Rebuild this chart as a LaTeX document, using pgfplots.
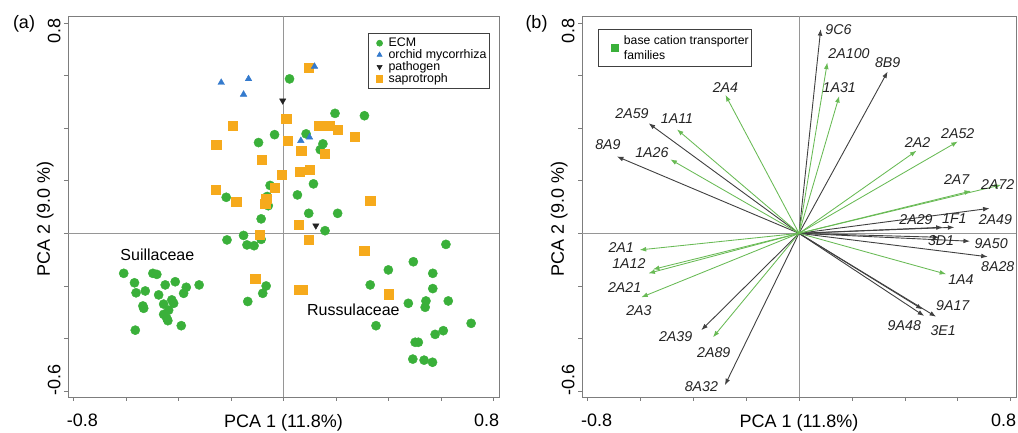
\documentclass[border=0pt]{standalone}
\usepackage{fontspec}
\setmainfont{Liberation Sans}
\usepackage{pgfplots}
\pgfplotsset{compat=1.18}
\usepackage{pgfplotstable}
\usetikzlibrary{arrows.meta}

\definecolor{ecm}{RGB}{58,176,58}
\definecolor{orch}{RGB}{52,122,205}
\definecolor{patho}{RGB}{35,35,35}
\definecolor{sapro}{RGB}{246,170,28}
\definecolor{agreen}{RGB}{104,186,84}
\definecolor{agrey}{RGB}{64,64,64}
\definecolor{framec}{RGB}{125,125,125}
\definecolor{zeroc}{RGB}{150,150,150}
\definecolor{labc}{RGB}{35,35,35}

% ---------- panel (a) data ----------
\pgfplotstableread{
x y
0.023 0.587
0.196 0.456
0.308 0.447
-0.034 0.375
0.086 0.378
-0.095 0.345
0.150 0.340
0.140 0.318
-0.051 0.182
0.114 0.188
-0.218 0.137
0.053 0.146
-0.062 0.140
-0.058 0.105
0.096 0.076
0.206 0.076
-0.085 0.055
0.158 0.010
-0.215 -0.025
-0.152 -0.008
-0.139 -0.044
-0.112 -0.047
-0.085 -0.023
-0.066 -0.200
-0.079 -0.228
-0.136 -0.259
-0.608 -0.152
-0.567 -0.188
-0.561 -0.226
-0.526 -0.219
-0.497 -0.152
-0.482 -0.156
-0.450 -0.196
-0.412 -0.184
-0.370 -0.205
-0.380 -0.228
-0.321 -0.196
-0.475 -0.234
-0.535 -0.276
-0.532 -0.285
-0.456 -0.269
-0.425 -0.253
-0.418 -0.266
-0.437 -0.292
-0.456 -0.308
-0.440 -0.332
-0.444 -0.323
-0.389 -0.351
-0.564 -0.368
0.618 -0.042
0.494 -0.108
0.399 -0.139
0.568 -0.152
0.330 -0.196
0.568 -0.210
0.475 -0.266
0.542 -0.257
0.539 -0.281
0.627 -0.257
0.352 -0.351
0.714 -0.342
0.577 -0.384
0.608 -0.370
0.501 -0.414
0.513 -0.414
0.492 -0.478
0.535 -0.482
0.567 -0.490
}\ecmdata

\pgfplotstableread{
x y
-0.237 0.573
-0.133 0.587
-0.152 0.528
0.118 0.634
0.066 0.352
0.099 0.365
}\orchdata

\pgfplotstableread{
x y
-0.003 0.504
0.123 0.029
}\pathdata

\pgfplotstableread{
x y
0.095 0.630
0.010 0.437
-0.194 0.408
0.136 0.409
0.175 0.409
0.205 0.395
0.270 0.368
-0.256 0.336
0.016 0.351
0.067 0.314
0.156 0.304
-0.082 0.279
-0.006 0.222
0.063 0.234
0.099 0.241
-0.032 0.174
-0.257 0.165
-0.180 0.120
-0.066 0.133
-0.070 0.114
0.330 0.123
0.057 0.032
-0.091 -0.006
0.095 -0.025
0.307 -0.067
-0.108 -0.171
0.057 -0.215
0.074 -0.213
0.399 -0.231
}\saprodata

% ---------- panel (b) data ----------
\pgfplotstableread{
x y u v
0 0 0.082 0.776
0 0 0.335 0.615
0 0 -0.568 0.418
0 0 -0.688 0.292
0 0 0.720 0.095
0 0 0.543 0.023
0 0 0.587 0.023
0 0 0.530 -0.015
0 0 0.646 -0.030
0 0 0.713 -0.089
0 0 0.467 -0.289
0 0 0.518 -0.317
0 0 0.473 -0.314
0 0 -0.369 -0.368
0 0 -0.280 -0.577
}\arrowsgrey

\pgfplotstableread{
x y u v
0 0 0.107 0.649
0 0 0.152 0.522
0 0 -0.278 0.526
0 0 -0.461 0.395
0 0 -0.486 0.281
0 0 0.444 0.314
0 0 0.600 0.349
0 0 0.650 0.161
0 0 0.764 0.184
0 0 0.556 -0.155
0 0 -0.602 -0.063
0 0 -0.552 -0.137
0 0 -0.569 -0.152
0 0 -0.596 -0.243
0 0 -0.325 -0.395
}\arrowsgreen

\pgfplotstableread{
x y label
0.149 0.773 9C6
0.189 0.682 2A100
0.335 0.649 8B9
0.152 0.555 1A31
-0.278 0.555 2A4
-0.631 0.454 2A59
-0.461 0.437 1A11
-0.722 0.336 8A9
-0.556 0.307 1A26
0.448 0.345 2A2
0.600 0.380 2A52
0.596 0.203 2A7
0.751 0.186 2A72
0.442 0.051 2A29
0.587 0.057 1F1
0.742 0.051 2A49
0.537 -0.028 3D1
0.726 -0.038 9A50
0.751 -0.127 8A28
0.612 -0.175 1A4
0.581 -0.276 9A17
0.398 -0.349 9A48
0.545 -0.368 3E1
-0.672 -0.053 2A1
-0.643 -0.114 1A12
-0.659 -0.207 2A21
-0.605 -0.292 2A3
-0.466 -0.393 2A39
-0.322 -0.454 2A89
-0.369 -0.583 8A32
}\labelsB

\newcommand{\bigf}{\fontsize{18}{20}\selectfont}

\pgfplotsset{
  pcastyle/.style={
    scale only axis,
    height=381pt,
    xmin=-0.82, xmax=0.82, ymin=-0.622, ymax=0.826,
    xtick={-0.8,-0.6,...,0.81}, ytick={-0.6,-0.4,...,0.81},
    xticklabels={}, yticklabels={},
    extra x ticks={-0.765,0.773}, extra x tick labels={-0.8,0.8},
    extra y ticks={-0.558,0.769}, extra y tick labels={-0.6,0.8},
    extra x tick style={grid=none, tick style={draw=none}},
    extra y tick style={grid=none, tick style={draw=none}},
    tick pos=left, tick align=outside, major tick length=4pt,
    tick style={framec, line width=0.6pt},
    axis line style={framec, line width=0.7pt},
    ticklabel style={font=\bigf, text=black},
    xticklabel style={anchor=north, yshift=-9.5pt},
    yticklabel style={rotate=90, anchor=south},
    xlabel={PCA 1 (11.8\%)},
    ylabel={PCA 2 (9.0 \%)},
    label style={font=\bigf},
    xlabel style={at={(axis description cs:0.5,0)}, anchor=base, yshift=-30.5pt},
    clip=false,
  }
}

\begin{document}
\begin{tikzpicture}
\useasboundingbox (0,0) rectangle (1018pt,433pt);

% ================= panel (a) =================
\begin{axis}[pcastyle, width=431pt, at={(68pt,36pt)}, anchor=south west,
  ylabel style={at={(axis description cs:-0.042,0.467)}, anchor=base, rotate=0},
  legend style={at={(rel axis cs:0.696,0.955)}, anchor=north west,
    font=\fontsize{12.4}{12.4}\selectfont, draw=black!75, line width=0.6pt,
    inner xsep=2pt, inner ysep=4pt, row sep=0pt,
    nodes={inner sep=0.7pt}},
  legend cell align=left,
  legend image code/.code={\path (-9pt,0pt) (8pt,0pt); \draw[#1] plot coordinates {(0pt,0pt)};},
]
\addlegendimage{only marks, mark=*, mark size=3pt, ecm, mark options={draw=ecm, fill=ecm}}
\addlegendentry{ECM}
\addlegendimage{only marks, mark=triangle*, mark size=2.9pt, orch, mark options={draw=orch, fill=orch}}
\addlegendentry{orchid mycorrhiza}
\addlegendimage{only marks, mark=triangle*, mark size=2.9pt, patho, mark options={rotate=180, draw=patho, fill=patho}}
\addlegendentry{pathogen}
\addlegendimage{only marks, mark=square*, mark size=3.2pt, sapro, mark options={draw=sapro, fill=sapro}}
\addlegendentry{saprotroph}

\addplot[zeroc, line width=0.6pt, forget plot] coordinates {(0,-0.622) (0,0.826)};
\addplot[zeroc, line width=0.6pt, forget plot] coordinates {(-0.82,0) (0.82,0)};

\addplot[only marks, mark=*, mark size=4.6pt, mark options={draw=ecm, fill=ecm}, forget plot] table {\ecmdata};
\addplot[only marks, mark=square*, mark size=4.6pt, mark options={draw=sapro, fill=sapro}, forget plot] table {\saprodata};
\addplot[only marks, mark=triangle*, mark size=3.6pt, mark options={rotate=180, draw=patho, fill=patho}, forget plot] table {\pathdata};
\addplot[only marks, mark=triangle*, mark size=3.8pt, mark options={draw=orch, fill=orch}, forget plot] table {\orchdata};

\node[font=\fontsize{16}{16}\selectfont] at (axis cs:-0.480,-0.082) {Suillaceae};
\node[font=\fontsize{16}{16}\selectfont] at (axis cs:0.266,-0.292) {Russulaceae};
\end{axis}
\node[font=\bigf] at (24pt,409pt) {(a)};

% ================= panel (b) =================
\begin{axis}[pcastyle, width=434pt, at={(582pt,36pt)}, anchor=south west,
  ylabel style={at={(axis description cs:-0.042,0.467)}, anchor=base, rotate=0},
  legend style={at={(rel axis cs:0.037,0.966)}, anchor=north west,
    font=\fontsize{12.2}{15}\selectfont, draw=black!75, line width=0.6pt,
    inner xsep=2pt, inner ysep=5pt,
    nodes={inner sep=1pt},
    cells={align=left}},
  legend cell align=left,
  legend image code/.code={\path (-14pt,0pt) (8pt,0pt); \draw[#1] plot coordinates {(0pt,0pt)};},
]
\addlegendimage{only marks, mark=square*, mark size=3.6pt, mark options={draw=ecm, fill=ecm}}
\addlegendentry{base cation transporter\\families}

\addplot[zeroc, line width=0.6pt, forget plot] coordinates {(0,-0.622) (0,0.826)};
\addplot[zeroc, line width=0.6pt, forget plot] coordinates {(-0.82,0) (0.82,0)};

\addplot[agrey, line width=0.9pt, -{Latex[length=6.5pt,width=4.8pt]},
  quiver={u=\thisrow{u}, v=\thisrow{v}}, forget plot] table {\arrowsgrey};
\addplot[agreen, line width=0.85pt, -{Latex[length=6.5pt,width=4.8pt]},
  quiver={u=\thisrow{u}, v=\thisrow{v}}, forget plot] table {\arrowsgreen};

\addplot[only marks, mark=*, mark size=0pt, mark options={draw=none, fill=none},
  nodes near coords, point meta=explicit symbolic,
  every node near coord/.style={anchor=center, text=labc,
    font=\itshape\fontsize{14.2}{14}\selectfont},
  forget plot] table[meta=label] {\labelsB};
\end{axis}
\node[font=\bigf] at (536.5pt,409pt) {(b)};
\end{tikzpicture}
\end{document}
